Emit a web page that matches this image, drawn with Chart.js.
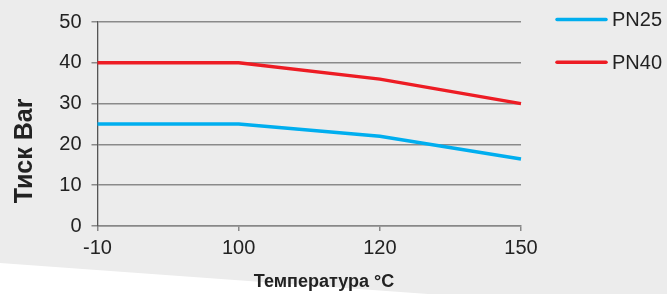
<!DOCTYPE html>
<html>
<head>
<meta charset="utf-8">
<script src="https://cdn.jsdelivr.net/npm/chart.js@4"></script>
<style>
  html, body { margin: 0; padding: 0; background: #ececec; }
  #wrap { width: 667px; height: 294px; position: relative; }
</style>
</head>
<body>
<div id="wrap"><canvas id="myChart"></canvas></div>
<script>
// temperatures on the x axis
var temps = ['-10', '100', '120', '150'];
// pressure, bar
var pn25 = [25, 25, 22, 16.4];
var pn40 = [40, 40, 36, 30];
var seriesNames = ['PN25', 'PN40'];
var seriesColors = ['#00aeef', '#ed1c24'];

var FONT = "'Liberation Sans', Arial, sans-serif";

// grey page with the white wedge at the bottom left
var backgroundPlugin = {
    id: 'bg',
    beforeDraw: function(chart) {
        var ctx = chart.ctx;
        ctx.save();
        ctx.fillStyle = '#ececec';
        ctx.fillRect(0, 0, chart.width, chart.height);
        ctx.fillStyle = '#ffffff';
        ctx.beginPath();
        ctx.moveTo(0, 263);
        ctx.lineTo(428, chart.height);
        ctx.lineTo(0, chart.height);
        ctx.closePath();
        ctx.fill();
        ctx.restore();
    }
};

// axis titles and the legend on the right
var textPlugin = {
    id: 'texts',
    afterDraw: function(chart) {
        var ctx = chart.ctx;
        var area = chart.chartArea;
        ctx.save();
        ctx.fillStyle = '#222';
        ctx.textAlign = 'center';
        ctx.textBaseline = 'middle';

        ctx.font = 'bold 18px ' + FONT;
        ctx.fillText('Температура °C', 324, 282);

        ctx.translate(25, 151);
        ctx.rotate(-Math.PI / 2);
        ctx.font = 'bold 25px ' + FONT;
        ctx.fillText('Тиск Bar', 0, 0);
        ctx.restore();

        ctx.save();
        chart.data.datasets.forEach(function(ds, i) {
            var y = area.top - 2.4 + i * 42.7;
            var x = area.right + 35;
            ctx.strokeStyle = ds.borderColor;
            ctx.lineWidth = 3.5;
            ctx.lineCap = 'round';
            ctx.beginPath();
            ctx.moveTo(x + 1, y);
            ctx.lineTo(x + 50, y);
            ctx.stroke();
            ctx.fillStyle = '#222';
            ctx.font = '20px ' + FONT;
            ctx.textAlign = 'left';
            ctx.textBaseline = 'middle';
            ctx.fillText(ds.label, x + 56, y + 1);
        });
        ctx.restore();
    }
};

var ctx = document.getElementById('myChart').getContext('2d');
var chart = new Chart(ctx, {
    type: 'line',
    data: {
        labels: temps,
        datasets: [{
            label: seriesNames[0],
            data: pn25,
            borderColor: seriesColors[0],
            backgroundColor: seriesColors[0],
            borderWidth: 3.5,
            pointRadius: 0,
            tension: 0
        }, {
            label: seriesNames[1],
            data: pn40,
            borderColor: seriesColors[1],
            backgroundColor: seriesColors[1],
            borderWidth: 3.5,
            pointRadius: 0,
            tension: 0
        }]
    },
    plugins: [backgroundPlugin, textPlugin],
    options: {
        responsive: true,
        maintainAspectRatio: false,
        animation: false,
        layout: { padding: { left: 0, top: 21, right: 146, bottom: 0 } },
        plugins: {
            legend: { display: false },
            tooltip: { enabled: false }
        },
        scales: {
            x: {
                offset: false,
                grid: { drawOnChartArea: false, color: '#888', lineWidth: 1.5, tickLength: 5 },
                border: { color: '#888', width: 1.5 },
                ticks: { color: '#222', font: { family: FONT, size: 20 }, padding: 5, maxRotation: 0 },
                afterFit: function(scale) { scale.height = 68; }
            },
            y: {
                min: 0,
                max: 50,
                grid: { color: '#8a8a8a', lineWidth: 1.5, tickLength: 6 },
                border: { color: '#555', width: 1.3 },
                ticks: { stepSize: 10, color: '#222', font: { family: FONT, size: 20 }, padding: 10 },
                afterFit: function(scale) { scale.width = 97.5; }
            }
        }
    }
});
</script>
</body>
</html>
